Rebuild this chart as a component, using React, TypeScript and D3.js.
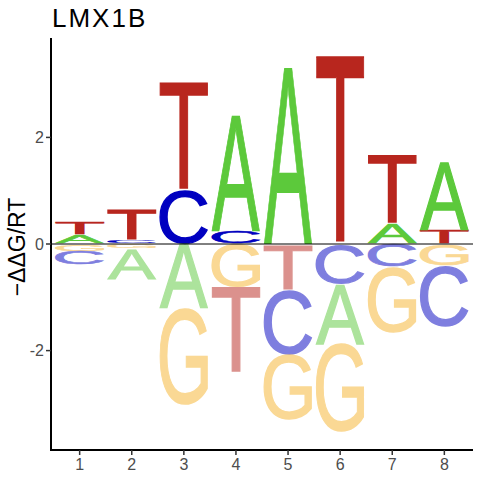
import * as d3 from "d3";
import React, { useMemo } from "react";

// energy logo: one column per position, letters stacked by |value|
const positions = [1, 2, 3, 4, 5, 6, 7, 8];
const bases = ["A", "C", "G", "T"];
const valuesA = [0.17, -0.58, -1.22, 2.17, 3.3, -1.13, 0.39, 1.28];
const valuesC = [-0.26, 0.08, 1.01, 0.25, -1.21, -0.75, -0.43, -1.14];
const valuesG = [-0.14, -0.09, -1.8, -0.81, -1.23, -1.65, -1.24, -0.41];
const valuesT = [0.25, 0.58, 2.03, -1.61, -0.86, 3.53, 1.3, 0.26];
const yTicks = [-2, 0, 2];
const title = "LMX1B";
const yLabel = "\u2212\u0394\u0394G/RT";

const baseColors: Record<string, string> = {
    A: "#5CC93B",
    C: "#0000C0",
    G: "#F7B32B",
    T: "#B8261E",
};

const width = 480;
const height = 480;
const panel = { left: 51, right: 473, top: 38, bottom: 450 };
const glyphFont = "'Liberation Sans'";
const letterWidth = 0.94;
const glyphStroke = 1.3;

type Glyph = { left: number; right: number; asc: number; desc: number };

const measureGlyphs = (): Record<string, Glyph> => {
    const ctx = document.createElement("canvas").getContext("2d")!;
    ctx.font = `100px ${glyphFont}`;
    const out: Record<string, Glyph> = {};
    bases.forEach((b) => {
        const m = ctx.measureText(b);
        out[b] = {
            left: m.actualBoundingBoxLeft,
            right: m.actualBoundingBoxRight,
            asc: m.actualBoundingBoxAscent,
            desc: m.actualBoundingBoxDescent,
        };
    });
    return out;
};

const App: React.FC = () => {
    const x = d3.scaleLinear().domain([0.45, 8.55]).range([panel.left, panel.right]);
    const y = d3.scaleLinear().domain([-3.865, 3.865]).range([panel.bottom, panel.top]);

    const glyphs = useMemo(measureGlyphs, []);

    const letters = useMemo(() => {
        const table = [valuesA, valuesC, valuesG, valuesT];
        const out: Array<{ base: string; pos: number; y0: number; y1: number; neg: boolean }> = [];
        positions.forEach((pos, i) => {
            const col = bases.map((b, j) => ({ base: b, v: table[j][i] }));
            const up = col.filter((d) => d.v > 0).sort((a, b) => a.v - b.v);
            const down = col.filter((d) => d.v < 0).sort((a, b) => b.v - a.v);
            let acc = 0;
            up.forEach((d) => {
                out.push({ base: d.base, pos, y0: acc, y1: acc + d.v, neg: false });
                acc += d.v;
            });
            acc = 0;
            down.forEach((d) => {
                out.push({ base: d.base, pos, y0: acc + d.v, y1: acc, neg: true });
                acc += d.v;
            });
        });
        return out;
    }, []);

    const fontText = "'Liberation Sans', Arial, sans-serif";
    const inset = glyphStroke / 2;

    return (
        <svg
            width={width}
            height={height}
            style={{ position: "absolute", left: 0, top: 0, background: "#fff" }}
        >
            <text x={52} y={27} fontSize={26} letterSpacing={2} fontFamily={fontText} fill="#000">
                {title}
            </text>

            {letters.map((d, i) => {
                const g = glyphs[d.base];
                const x0 = x(d.pos - letterWidth / 2) + inset;
                const x1 = x(d.pos + letterWidth / 2) - inset;
                const yTop = y(d.y1) + inset;
                const yBot = Math.max(y(d.y0) - inset, yTop + 0.3);
                const sx = (x1 - x0) / (g.left + g.right);
                const sy = (yBot - yTop) / (g.asc + g.desc);
                return (
                    <text
                        key={i}
                        x={0}
                        y={0}
                        fontSize={100}
                        fontFamily={glyphFont}
                        fill={baseColors[d.base]}
                        stroke={baseColors[d.base]}
                        strokeWidth={glyphStroke}
                        vectorEffect="non-scaling-stroke"
                        strokeLinejoin="miter"
                        opacity={d.neg ? 0.5 : 1}
                        transform={`translate(${x0 + g.left * sx},${yTop + g.asc * sy}) scale(${sx},${sy})`}
                    >
                        {d.base}
                    </text>
                );
            })}

            <line x1={panel.left} x2={panel.right} y1={y(0)} y2={y(0)} stroke="#000" strokeWidth={1} />

            {/* axes */}
            <line x1={panel.left} x2={panel.left} y1={panel.top} y2={panel.bottom + 1} stroke="#000" strokeWidth={2} />
            <line x1={panel.left - 1} x2={panel.right} y1={panel.bottom} y2={panel.bottom} stroke="#000" strokeWidth={2} />

            {yTicks.map((t) => (
                <g key={t} transform={`translate(0,${y(t)})`}>
                    <line x1={panel.left - 5} x2={panel.left} stroke="#333" strokeWidth={1.5} />
                    <text
                        x={panel.left - 7}
                        dy="0.36em"
                        textAnchor="end"
                        fontSize={16}
                        fontFamily={fontText}
                        fill="#4D4D4D"
                    >
                        {t}
                    </text>
                </g>
            ))}

            {positions.map((p) => (
                <g key={p} transform={`translate(${x(p)},0)`}>
                    <line y1={panel.bottom} y2={panel.bottom + 5} stroke="#333" strokeWidth={1.5} />
                    <text
                        y={470}
                        textAnchor="middle"
                        fontSize={16}
                        fontFamily={fontText}
                        fill="#4D4D4D"
                    >
                        {p}
                    </text>
                </g>
            ))}

            <text
                transform={`translate(25,247) rotate(-90)`}
                textAnchor="middle"
                fontSize={23}
                fontFamily={fontText}
                fill="#000"
            >
                {yLabel}
            </text>
        </svg>
    );
};

export default App;
